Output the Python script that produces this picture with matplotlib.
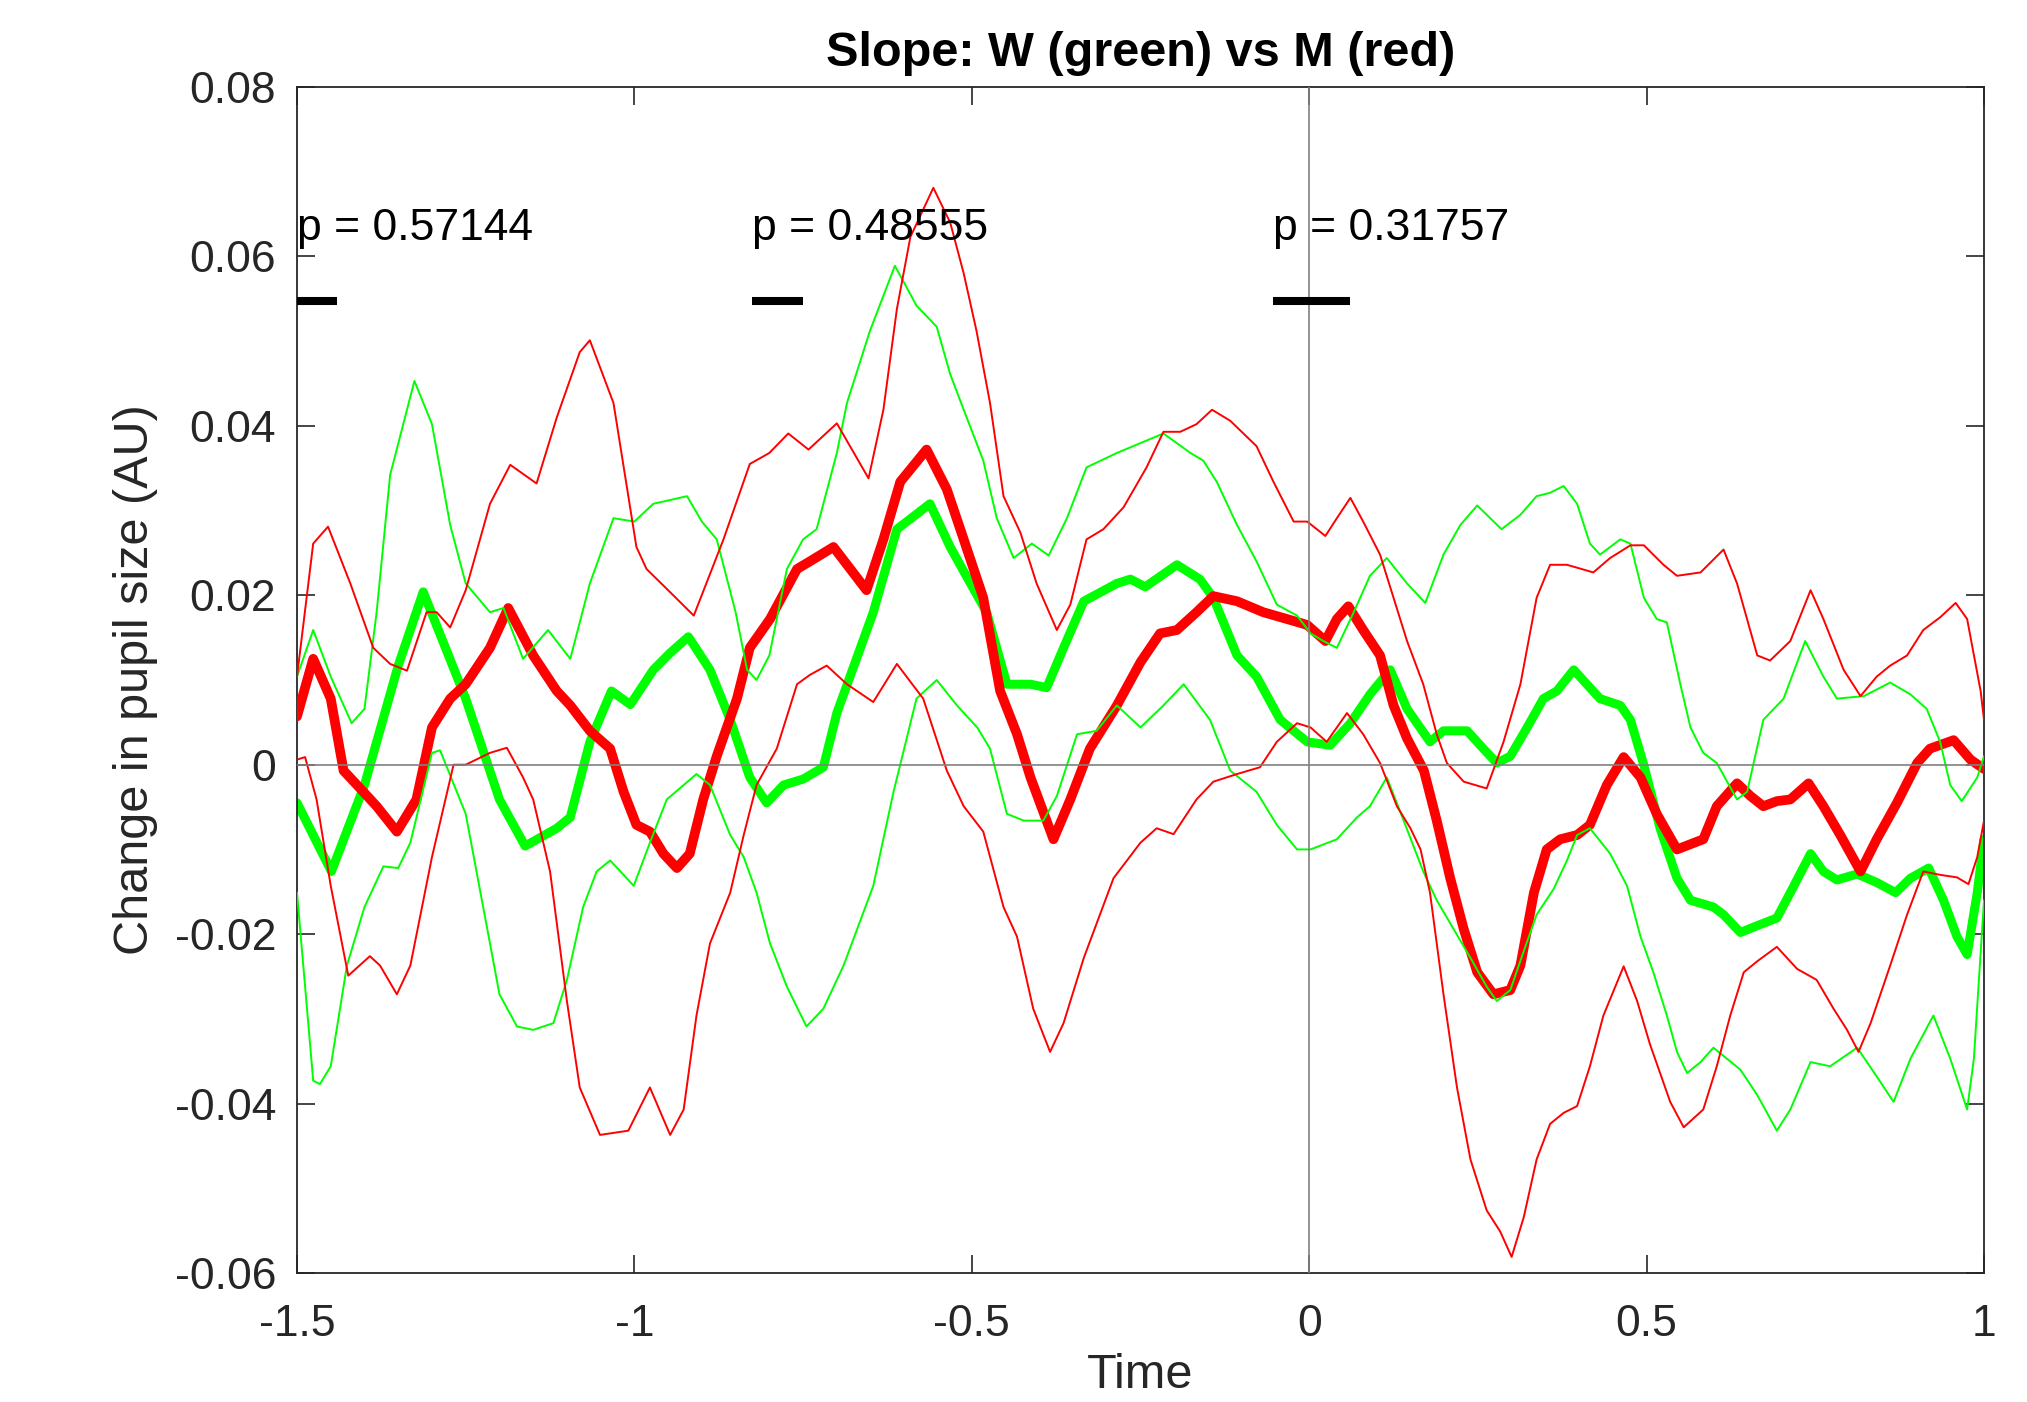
import numpy as np
import matplotlib
matplotlib.use('Agg')
import matplotlib.pyplot as plt

plt.rcParams['font.family'] = ['Liberation Sans', 'DejaVu Sans']

# (time, value)
green_mean = [(-1.500, -0.0045), (-1.449, -0.0126), (-1.400, -0.0024), (-1.350, 0.0117), (-1.313, 0.0204),
              (-1.250, 0.0078), (-1.200, -0.0041), (-1.162, -0.0096), (-1.115, -0.0075), (-1.095, -0.0062),
              (-1.066, 0.0027), (-1.034, 0.0087), (-1.006, 0.0071), (-0.972, 0.0112), (-0.947, 0.0132),
              (-0.920, 0.0151), (-0.888, 0.0112), (-0.858, 0.0053), (-0.829, -0.0015), (-0.804, -0.0045),
              (-0.779, -0.0024), (-0.750, -0.0017), (-0.720, -0.0003), (-0.700, 0.0061), (-0.646, 0.0180),
              (-0.611, 0.0278), (-0.562, 0.0308), (-0.532, 0.0257), (-0.502, 0.0214), (-0.478, 0.0180),
              (-0.448, 0.0095), (-0.413, 0.0095), (-0.389, 0.0091), (-0.364, 0.0138), (-0.334, 0.0193),
              (-0.285, 0.0214), (-0.265, 0.0219), (-0.243, 0.0210), (-0.196, 0.0236), (-0.162, 0.0219),
              (-0.142, 0.0197), (-0.107, 0.0129), (-0.078, 0.0104), (-0.043, 0.0053), (-0.003, 0.0027),
              (0.031, 0.0023), (0.061, 0.0049), (0.090, 0.0083), (0.120, 0.0112), (0.145, 0.0066),
              (0.179, 0.0027), (0.199, 0.0040), (0.234, 0.0040), (0.258, 0.0019), (0.278, 0.0002),
              (0.298, 0.0010), (0.323, 0.0044), (0.347, 0.0078), (0.367, 0.0087), (0.392, 0.0112),
              (0.416, 0.0091), (0.431, 0.0078), (0.461, 0.0070), (0.476, 0.0053), (0.495, 0.0002),
              (0.520, -0.0075), (0.545, -0.0134), (0.565, -0.0160), (0.599, -0.0168), (0.614, -0.0177),
              (0.639, -0.0198), (0.664, -0.0190), (0.693, -0.0181), (0.713, -0.0151), (0.743, -0.0105),
              (0.762, -0.0126), (0.782, -0.0136), (0.812, -0.0129), (0.841, -0.0139), (0.869, -0.0151),
              (0.891, -0.0134), (0.918, -0.0122), (0.940, -0.0160), (0.960, -0.0203), (0.975, -0.0224),
              (0.990, -0.0151), (1.000, -0.0088)]

red_mean = [(-1.500, 0.0057), (-1.476, 0.0125), (-1.450, 0.0078), (-1.431, -0.0007), (-1.411, -0.0024),
            (-1.382, -0.0049), (-1.352, -0.0079), (-1.323, -0.0041), (-1.300, 0.0044), (-1.273, 0.0078),
            (-1.250, 0.0095), (-1.214, 0.0138), (-1.187, 0.0185), (-1.150, 0.0129), (-1.115, 0.0087),
            (-1.095, 0.0070), (-1.066, 0.0040), (-1.036, 0.0019), (-1.016, -0.0032), (-0.997, -0.0071),
            (-0.977, -0.0079), (-0.957, -0.0105), (-0.937, -0.0122), (-0.918, -0.0105), (-0.898, -0.0041),
            (-0.878, 0.0010), (-0.848, 0.0078), (-0.829, 0.0138), (-0.799, 0.0172), (-0.759, 0.0231),
            (-0.740, 0.0240), (-0.705, 0.0257), (-0.656, 0.0206), (-0.631, 0.0266), (-0.606, 0.0334),
            (-0.567, 0.0372), (-0.537, 0.0325), (-0.512, 0.0266), (-0.483, 0.0197), (-0.458, 0.0087),
            (-0.433, 0.0036), (-0.413, -0.0015), (-0.379, -0.0088), (-0.354, -0.0041), (-0.325, 0.0019),
            (-0.285, 0.0070), (-0.250, 0.0121), (-0.221, 0.0155), (-0.196, 0.0159), (-0.167, 0.0180),
            (-0.142, 0.0199), (-0.107, 0.0193), (-0.068, 0.0180), (-0.033, 0.0172), (-0.003, 0.0165),
            (0.024, 0.0146), (0.041, 0.0172), (0.058, 0.0187), (0.080, 0.0159), (0.105, 0.0129),
            (0.125, 0.0070), (0.145, 0.0031), (0.170, -0.0007), (0.189, -0.0066), (0.209, -0.0134),
            (0.229, -0.0194), (0.249, -0.0245), (0.273, -0.0271), (0.298, -0.0266), (0.313, -0.0237),
            (0.333, -0.0151), (0.352, -0.0100), (0.372, -0.0088), (0.397, -0.0083), (0.416, -0.0071),
            (0.441, -0.0024), (0.466, 0.0009), (0.491, -0.0015), (0.515, -0.0058), (0.545, -0.0100),
            (0.584, -0.0088), (0.604, -0.0049), (0.634, -0.0022), (0.654, -0.0037), (0.673, -0.0049),
            (0.693, -0.0043), (0.713, -0.0041), (0.740, -0.0022), (0.762, -0.0049), (0.787, -0.0083),
            (0.817, -0.0126), (0.841, -0.0088), (0.871, -0.0045), (0.901, 0.0002), (0.920, 0.0019),
            (0.955, 0.0029), (0.980, 0.0006), (1.000, -0.0005)]

green_upper = [(-1.500, 0.0104), (-1.476, 0.0159), (-1.450, 0.0104), (-1.419, 0.0049), (-1.400, 0.0066),
               (-1.382, 0.0180), (-1.362, 0.0342), (-1.326, 0.0453), (-1.300, 0.0402), (-1.273, 0.0283),
               (-1.250, 0.0214), (-1.214, 0.0180), (-1.194, 0.0185), (-1.165, 0.0125), (-1.128, 0.0159),
               (-1.095, 0.0125), (-1.066, 0.0214), (-1.031, 0.0291), (-1.000, 0.0287), (-0.972, 0.0308),
               (-0.922, 0.0317), (-0.900, 0.0287), (-0.878, 0.0266), (-0.850, 0.0180), (-0.833, 0.0112),
               (-0.819, 0.0100), (-0.800, 0.0129), (-0.774, 0.0231), (-0.750, 0.0266), (-0.730, 0.0278),
               (-0.700, 0.0368), (-0.685, 0.0427), (-0.651, 0.0512), (-0.614, 0.0589), (-0.582, 0.0542),
               (-0.552, 0.0517), (-0.532, 0.0461), (-0.512, 0.0419), (-0.483, 0.0359), (-0.463, 0.0291),
               (-0.438, 0.0244), (-0.411, 0.0261), (-0.386, 0.0247), (-0.359, 0.0291), (-0.330, 0.0351),
               (-0.285, 0.0368), (-0.255, 0.0378), (-0.216, 0.0391), (-0.176, 0.0368), (-0.157, 0.0359),
               (-0.137, 0.0334), (-0.107, 0.0283), (-0.078, 0.0240), (-0.048, 0.0189), (-0.018, 0.0176),
               (0.002, 0.0155), (0.021, 0.0146), (0.041, 0.0138), (0.066, 0.0180), (0.090, 0.0223),
               (0.115, 0.0244), (0.145, 0.0214), (0.172, 0.0191), (0.199, 0.0248), (0.224, 0.0283),
               (0.249, 0.0306), (0.285, 0.0278), (0.313, 0.0295), (0.337, 0.0317), (0.357, 0.0321),
               (0.377, 0.0329), (0.397, 0.0308), (0.416, 0.0261), (0.431, 0.0248), (0.461, 0.0266),
               (0.476, 0.0261), (0.496, 0.0197), (0.515, 0.0172), (0.530, 0.0168), (0.550, 0.0095),
               (0.565, 0.0044), (0.584, 0.0014), (0.604, 0.0002), (0.634, -0.0041), (0.649, -0.0032),
               (0.673, 0.0053), (0.703, 0.0078), (0.735, 0.0146), (0.762, 0.0104), (0.782, 0.0078),
               (0.822, 0.0081), (0.861, 0.0097), (0.891, 0.0083), (0.915, 0.0066), (0.935, 0.0027),
               (0.950, -0.0024), (0.967, -0.0043), (0.990, -0.0015), (1.000, 0.0010)]

green_lower = [(-1.500, -0.0151), (-1.476, -0.0373), (-1.466, -0.0377), (-1.450, -0.0356), (-1.426, -0.0237),
               (-1.400, -0.0168), (-1.372, -0.0120), (-1.350, -0.0122), (-1.332, -0.0092), (-1.300, 0.0014),
               (-1.288, 0.0017), (-1.250, -0.0058), (-1.214, -0.0211), (-1.200, -0.0271), (-1.174, -0.0309),
               (-1.150, -0.0313), (-1.120, -0.0305), (-1.100, -0.0254), (-1.076, -0.0168), (-1.056, -0.0126),
               (-1.036, -0.0113), (-1.016, -0.0130), (-1.001, -0.0143), (-0.977, -0.0092), (-0.952, -0.0041),
               (-0.927, -0.0024), (-0.908, -0.0011), (-0.888, -0.0024), (-0.858, -0.0083), (-0.838, -0.0109),
               (-0.819, -0.0151), (-0.799, -0.0211), (-0.774, -0.0262), (-0.745, -0.0309), (-0.720, -0.0288),
               (-0.690, -0.0237), (-0.646, -0.0143), (-0.616, -0.0032), (-0.582, 0.0078), (-0.552, 0.0100),
               (-0.522, 0.0070), (-0.492, 0.0044), (-0.473, 0.0019), (-0.448, -0.0058), (-0.423, -0.0066),
               (-0.394, -0.0066), (-0.374, -0.0037), (-0.344, 0.0036), (-0.315, 0.0040), (-0.285, 0.0070),
               (-0.250, 0.0044), (-0.216, 0.0070), (-0.186, 0.0095), (-0.147, 0.0053), (-0.117, -0.0007),
               (-0.078, -0.0032), (-0.048, -0.0071), (-0.018, -0.0100), (0.002, -0.0100), (0.041, -0.0088),
               (0.071, -0.0062), (0.090, -0.0049), (0.115, -0.0015), (0.140, -0.0066), (0.169, -0.0126),
               (0.189, -0.0160), (0.214, -0.0194), (0.239, -0.0228), (0.263, -0.0262), (0.278, -0.0279),
               (0.298, -0.0266), (0.318, -0.0220), (0.337, -0.0177), (0.362, -0.0147), (0.382, -0.0113),
               (0.397, -0.0083), (0.416, -0.0075), (0.446, -0.0105), (0.471, -0.0143), (0.491, -0.0203),
               (0.510, -0.0245), (0.530, -0.0296), (0.545, -0.0339), (0.560, -0.0364), (0.580, -0.0351),
               (0.599, -0.0334), (0.639, -0.0360), (0.664, -0.0390), (0.693, -0.0432), (0.713, -0.0407),
               (0.743, -0.0351), (0.772, -0.0356), (0.812, -0.0334), (0.841, -0.0368), (0.866, -0.0398),
               (0.891, -0.0347), (0.925, -0.0296), (0.950, -0.0347), (0.975, -0.0407), (0.985, -0.0347),
               (1.000, -0.0160)]

red_upper = [(-1.500, 0.0104), (-1.476, 0.0261), (-1.454, 0.0281), (-1.421, 0.0214), (-1.387, 0.0138),
             (-1.362, 0.0119), (-1.337, 0.0111), (-1.308, 0.0180), (-1.293, 0.0180), (-1.273, 0.0162),
             (-1.250, 0.0206), (-1.214, 0.0308), (-1.184, 0.0354), (-1.145, 0.0332), (-1.115, 0.0410),
             (-1.081, 0.0487), (-1.066, 0.0501), (-1.031, 0.0427), (-0.997, 0.0257), (-0.982, 0.0231),
             (-0.950, 0.0206), (-0.912, 0.0176), (-0.868, 0.0266), (-0.829, 0.0355), (-0.800, 0.0368),
             (-0.772, 0.0391), (-0.742, 0.0372), (-0.700, 0.0403), (-0.653, 0.0338), (-0.631, 0.0419),
             (-0.611, 0.0538), (-0.591, 0.0623), (-0.557, 0.0681), (-0.532, 0.0640), (-0.512, 0.0580),
             (-0.493, 0.0512), (-0.473, 0.0427), (-0.453, 0.0317), (-0.428, 0.0274), (-0.404, 0.0214),
             (-0.374, 0.0159), (-0.354, 0.0189), (-0.330, 0.0266), (-0.305, 0.0278), (-0.275, 0.0304),
             (-0.241, 0.0351), (-0.216, 0.0393), (-0.191, 0.0393), (-0.167, 0.0402), (-0.144, 0.0419),
             (-0.117, 0.0406), (-0.078, 0.0376), (-0.053, 0.0334), (-0.023, 0.0287), (-0.003, 0.0287),
             (0.024, 0.0270), (0.041, 0.0291), (0.061, 0.0315), (0.080, 0.0287), (0.105, 0.0248),
             (0.125, 0.0197), (0.145, 0.0146), (0.169, 0.0095), (0.189, 0.0036), (0.204, 0.0002),
             (0.229, -0.0020), (0.263, -0.0028), (0.288, 0.0027), (0.313, 0.0095), (0.337, 0.0197),
             (0.357, 0.0236), (0.382, 0.0236), (0.421, 0.0227), (0.446, 0.0244), (0.476, 0.0259),
             (0.496, 0.0259), (0.525, 0.0236), (0.545, 0.0223), (0.580, 0.0227), (0.614, 0.0254),
             (0.634, 0.0214), (0.664, 0.0129), (0.683, 0.0123), (0.713, 0.0146), (0.743, 0.0206),
             (0.762, 0.0172), (0.792, 0.0112), (0.817, 0.0081), (0.841, 0.0104), (0.861, 0.0117),
             (0.886, 0.0129), (0.910, 0.0159), (0.935, 0.0174), (0.958, 0.0191), (0.975, 0.0172),
             (0.995, 0.0087), (1.000, 0.0053)]

red_lower = [(-1.500, 0.0006), (-1.488, 0.0009), (-1.471, -0.0041), (-1.450, -0.0143), (-1.424, -0.0249),
             (-1.392, -0.0226), (-1.377, -0.0237), (-1.352, -0.0271), (-1.332, -0.0237), (-1.300, -0.0109),
             (-1.268, 0.0000), (-1.250, 0.0000), (-1.214, 0.0014), (-1.189, 0.0020), (-1.165, -0.0015),
             (-1.150, -0.0041), (-1.125, -0.0126), (-1.100, -0.0279), (-1.081, -0.0381), (-1.051, -0.0437),
             (-1.009, -0.0432), (-0.977, -0.0381), (-0.947, -0.0437), (-0.927, -0.0407), (-0.908, -0.0296),
             (-0.888, -0.0211), (-0.858, -0.0151), (-0.838, -0.0083), (-0.819, -0.0024), (-0.789, 0.0019),
             (-0.759, 0.0095), (-0.740, 0.0106), (-0.715, 0.0117), (-0.685, 0.0095), (-0.646, 0.0074),
             (-0.611, 0.0119), (-0.572, 0.0078), (-0.537, -0.0007), (-0.512, -0.0049), (-0.483, -0.0079),
             (-0.453, -0.0168), (-0.433, -0.0203), (-0.409, -0.0288), (-0.384, -0.0339), (-0.364, -0.0305),
             (-0.334, -0.0228), (-0.290, -0.0134), (-0.250, -0.0092), (-0.226, -0.0075), (-0.201, -0.0082),
             (-0.167, -0.0041), (-0.142, -0.0020), (-0.107, -0.0011), (-0.073, -0.0003), (-0.048, 0.0027),
             (-0.018, 0.0049), (0.002, 0.0044), (0.026, 0.0027), (0.056, 0.0061), (0.080, 0.0036),
             (0.105, 0.0002), (0.130, -0.0049), (0.150, -0.0075), (0.165, -0.0100), (0.179, -0.0151),
             (0.199, -0.0271), (0.219, -0.0381), (0.239, -0.0466), (0.263, -0.0526), (0.283, -0.0551),
             (0.300, -0.0581), (0.318, -0.0534), (0.337, -0.0466), (0.357, -0.0424), (0.377, -0.0411),
             (0.397, -0.0403), (0.416, -0.0356), (0.436, -0.0296), (0.466, -0.0238), (0.486, -0.0279),
             (0.505, -0.0330), (0.535, -0.0398), (0.555, -0.0428), (0.584, -0.0407), (0.604, -0.0356),
             (0.624, -0.0296), (0.644, -0.0245), (0.664, -0.0232), (0.693, -0.0215), (0.723, -0.0241),
             (0.752, -0.0254), (0.777, -0.0288), (0.797, -0.0313), (0.814, -0.0339), (0.832, -0.0305),
             (0.861, -0.0237), (0.886, -0.0177), (0.910, -0.0126), (0.935, -0.0130), (0.960, -0.0133),
             (0.977, -0.0141), (0.990, -0.0109), (1.000, -0.0066)]

# significance windows: (start, end, p-value text)
windows = [(-1.500, -1.440, 'p = 0.57144'),
           (-0.825, -0.750, 'p = 0.48555'),
           (-0.053, 0.060, 'p = 0.31757')]

xticks = [-1.5, -1, -0.5, 0, 0.5, 1]
xtick_labels = ['-1.5', '-1', '-0.5', '0', '0.5', '1']
yticks = [-0.06, -0.04, -0.02, 0, 0.02, 0.04, 0.06, 0.08]
ytick_labels = ['-0.06', '-0.04', '-0.02', '0', '0.02', '0.04', '0.06', '0.08']

GREEN = '#00ff00'
RED = '#ff0000'
AXC = (0.15, 0.15, 0.15)

fig = plt.figure(figsize=(20.27, 14.02), dpi=100)
ax = fig.add_axes([297 / 2027, 1 - 1273 / 1402, (1984 - 297) / 2027, (1273 - 87) / 1402])


def draw(curve, color, lw, z):
    t, v = np.array(curve).T
    ax.plot(t, v, color=color, lw=lw, zorder=z, solid_joinstyle='round', solid_capstyle='round')


draw(green_mean, GREEN, 6.5, 2)
draw(red_mean, RED, 7.0, 3)
draw(green_upper, GREEN, 1.4, 4)
draw(green_lower, GREEN, 1.4, 4)
draw(red_upper, RED, 1.4, 4)
draw(red_lower, RED, 1.4, 4)

ax.axhline(0, color='0.5', lw=1.2, zorder=5)
ax.axvline(0, color='0.5', lw=1.2, zorder=5)

for start, end, label in windows:
    ax.plot([start, end], [0.0547, 0.0547], color='black', lw=5.8, solid_capstyle='butt', zorder=6)
    ax.text(start, 0.0619, label, fontsize=32, ha='left', va='baseline', zorder=6)

ax.set_xlim(-1.5, 1)
ax.set_ylim(-0.06, 0.08)
ax.set_xticks(xticks)
ax.set_xticklabels(xtick_labels)
ax.set_yticks(yticks)
ax.set_yticklabels(ytick_labels)
ax.tick_params(direction='in', length=13, width=1.2, top=True, right=True,
               color=AXC, labelcolor=AXC, labelsize=32)
ax.tick_params(axis='x', pad=22)
ax.tick_params(axis='y', pad=15)
for s in ax.spines.values():
    s.set_color(AXC)
    s.set_linewidth(1.3)

ax.set_title('Slope: W (green) vs M (red)', fontsize=35, fontweight='bold', pad=15)
ax.set_xlabel('Time', fontsize=35, color=AXC, labelpad=6)
ax.set_ylabel('Change in pupil size (AU)', fontsize=35, color=AXC, labelpad=12)

fig.savefig('out.png', dpi=100)
